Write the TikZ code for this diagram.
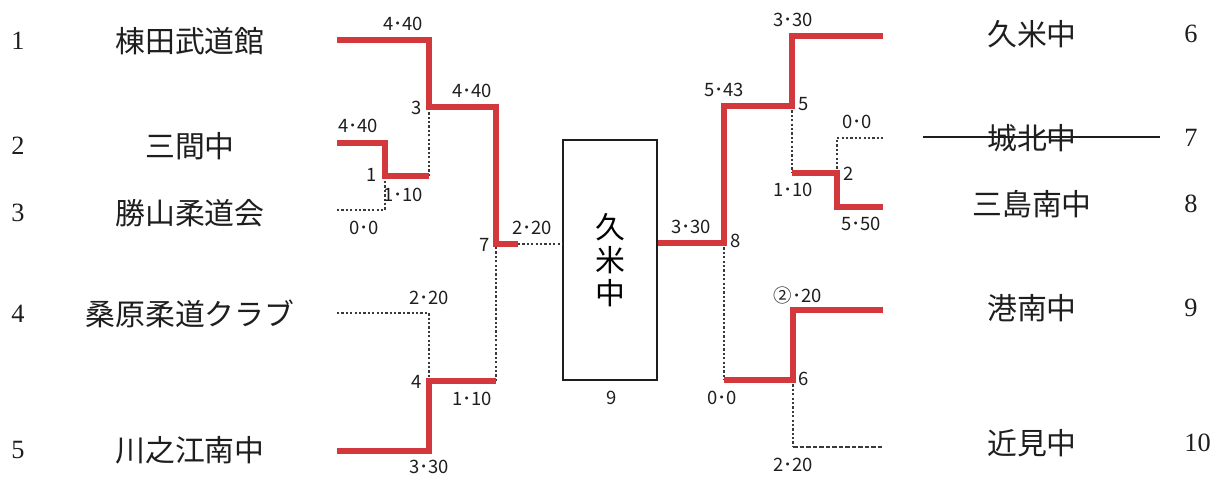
\documentclass[tikz,border=0pt]{standalone}
\usepackage{fontspec}
\setmainfont{Liberation Serif}
\newfontfamily\jpfont{Noto Sans CJK JP}
\usetikzlibrary{positioning}
\definecolor{winred}{HTML}{D3383D}
\definecolor{dots}{HTML}{3A3A3A}
\definecolor{ink}{HTML}{1E1E1E}
\tikzset{
  won/.style={draw=winred, line width=3.4pt},
  lost/.style={draw=dots, line width=1.5pt, dash pattern=on 1.3pt off 1.2pt},
  bye/.style={draw=dots, line width=1.4pt, dash pattern=on 2.8pt off 0.9pt},
  team/.style={font=\jpfont\fontsize{17}{20}\selectfont, text=ink, inner sep=0pt},
  seed/.style={font=\fontsize{15}{18}\selectfont, text=ink, inner sep=0pt},
  score/.style={font=\jpfont\fontsize{10.5}{12}\selectfont, text=ink, inner sep=0pt},
  finalbox/.style={draw=ink, line width=1.1pt, minimum width=1.88cm,
                   minimum height=4.8cm, inner sep=0pt, align=center,
                   font=\jpfont\fontsize{17}{18.8}\selectfont}
}

\begin{document}
\begin{tikzpicture}[x=0.02cm,y=-0.02cm]
  \useasboundingbox (0,0) rectangle (1221,479);
  % entrants
  \foreach \n/\name/\y in {1/棟田武道館/41, 2/三間中/146, 3/勝山柔道会/213,
                           4/桑原柔道クラブ/314, 5/川之江南中/450} {
    \node[seed] (s\n) at (18,\y) {\n};
    \node[team] (t\n) at (190,\y) {\name};
  }
  \foreach \n/\name/\y in {6/久米中/34, 7/城北中/138, 8/三島南中/204,
                           9/港南中/308, 10/近見中/443} {
    \node[seed,anchor=west] (s\n) at (1184,\y) {\n};
    \node[team] (t\n) at (1032,\y) {\name};
  }
  \draw[draw=ink, line width=0.7pt] (923,137) -- (1160,137);

  \node[finalbox] (fin) at (610,260) {久\\米\\中};
  \node[score] (finseed) at (612,398) {9};

  \coordinate (e1) at (337,40);  \coordinate (e2) at (337,143);
  \coordinate (e3) at (337,210); \coordinate (e4) at (337,313);
  \coordinate (e5) at (337,451);
  \coordinate (m1) at (385,176); \coordinate (m3) at (429,107);
  \coordinate (m7) at (496,244); \coordinate (m4) at (429,381);
  \coordinate (m7x) at (518,244);
  \coordinate (e6) at (883,36);  \coordinate (e7) at (883,138);
  \coordinate (e8) at (883,207); \coordinate (e9) at (883,310);
  \coordinate (e10) at (883,447);
  \coordinate (m8) at (724,243); \coordinate (m5) at (792,106);
  \coordinate (m2) at (837,173); \coordinate (m6) at (793,380);

  % left half
  \draw[lost] (e3) -| (m1);
  \draw[lost] (m1 -| m3) -- (m3);
  \draw[lost] (e4) -| (m4);
  \draw[lost] (m4 -| m7) -- (m7);
  \draw[lost] (m7x) -- (fin.west |- m7x);
  \draw[won] (e2) -| (m1) -- (m1 -| m3);
  \draw[won] (e5) -| (m4) -- (m4 -| m7);
  \draw[won] (e1) -| (m3) -| (m7) -- (m7x);

  % right half
  \draw[lost] (m5) -- (m5 |- m2);
  \draw[lost] (m2) |- (e7);
  \draw[lost] (m8) -- (m8 |- m6);
  \draw[lost] (m6) -- (m6 |- e10);
  \draw[bye] (m6 |- e10) -- (e10);
  \draw[won] (m5 |- m2) -- (m2) |- (e8);
  \draw[won] (m8 |- m6) -- (m6) |- (e9);
  \draw[won] (fin.east |- m8) -- (m8) |- (m5) |- (e6);

  \foreach \n/\x/\y in {1/372/175, 3/417/108, 7/485/245, 4/417/382,
                        8/736/241, 5/804/104, 2/849/174, 6/804/379}
    \node[score] (b\n) at (\x,\y) {\n};

  \foreach \lab/\x/\y [count=\i] in {4･40/403/24, 4･40/472/91, 4･40/358/126,
      1･10/403/195, 0･0/364/228, 2･20/532/228, 2･20/429/298, 1･10/472/399,
      3･30/429/467, 3･30/793/20, 5･43/724/90, 3･30/691/227, 1･10/793/190,
      0･0/857/122, 5･50/861/224, ②･20/798/295, 0･0/722/398, 2･20/793/465}
    \node[score] (sc\i) at (\x,\y) {\lab};
\end{tikzpicture}
\end{document}
